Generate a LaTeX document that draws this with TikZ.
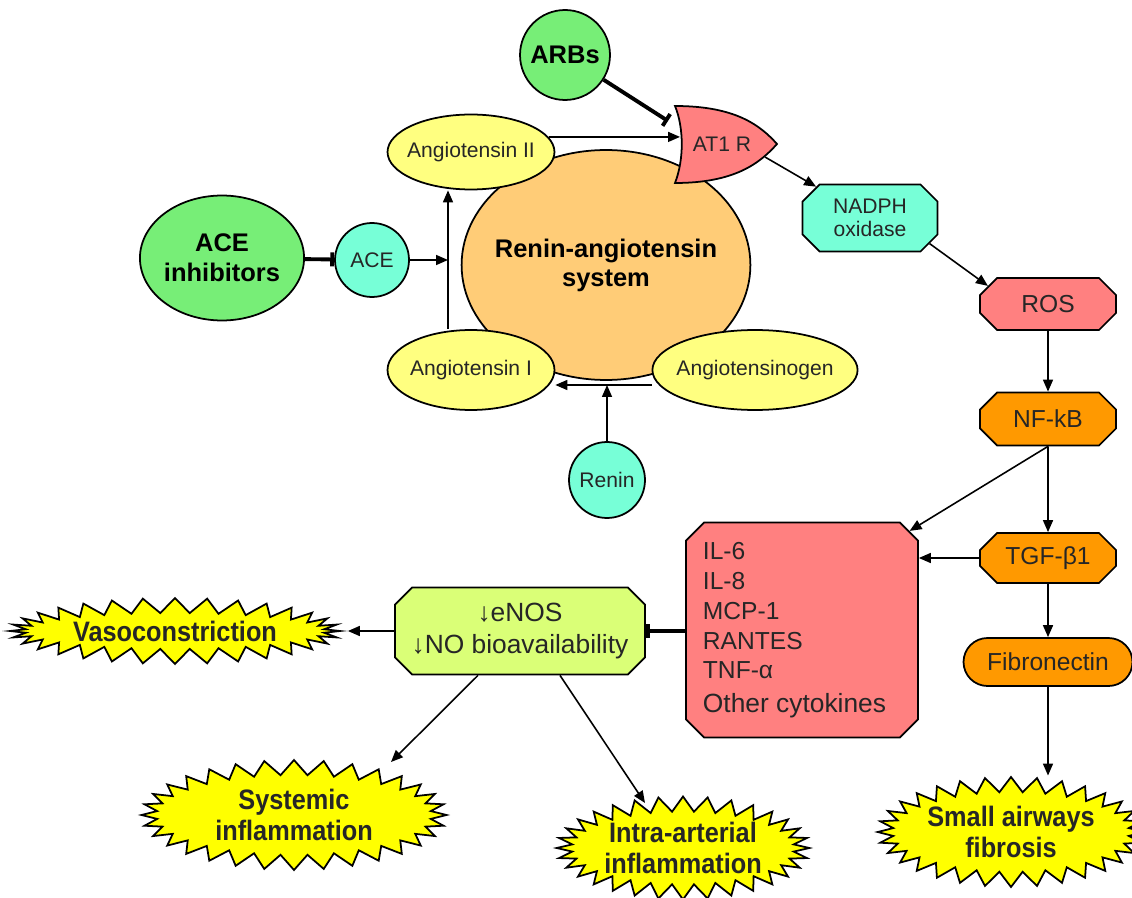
\documentclass[tikz,border=0pt]{standalone}
\usepackage{fontspec}
\setmainfont{Liberation Sans}
\newfontfamily\burstfont[FakeStretch=0.9]{Liberation Sans}
\usetikzlibrary{shapes.geometric, shapes.misc, shapes.symbols, arrows.meta, calc, backgrounds}

\definecolor{grn}{RGB}{119,238,119}
\definecolor{aqua}{RGB}{119,255,215}
\definecolor{yel}{RGB}{255,255,128}
\definecolor{peach}{RGB}{255,204,119}
\definecolor{salmon}{RGB}{255,128,128}
\definecolor{orng}{RGB}{255,153,0}
\definecolor{lime}{RGB}{218,255,119}
\definecolor{burst}{RGB}{255,255,0}

\begin{document}
\begin{tikzpicture}[x=0.02cm, y=-0.02cm,
        every node/.style={draw=black, line width=1pt, text=black!85, inner sep=0pt, align=center},
        ell/.style={ellipse, fill=yel, inner xsep=-0.12cm, font=\fontsize{12}{14}\selectfont},
        drug/.style={ellipse, fill=grn, text=black, font=\fontsize{14.5}{17}\selectfont\bfseries},
        enz/.style={circle, fill=aqua, font=\fontsize{12}{14}\selectfont},
        box/.style={chamfered rectangle, chamfered rectangle xsep=0.17cm, chamfered rectangle ysep=0.17cm, font=\fontsize{14}{17}\selectfont},
        outcome/.style={starburst, starburst points=32, random starburst=0, starburst point height=0.3cm, fill=burst, font=\burstfont\fontsize{16}{17.5}\selectfont\bfseries},
        arr/.style={line width=0.9pt, -{Triangle[length=2.4mm, width=2mm]}},
        tee/.style={line width=2.2pt, -{Bar[width=2.8mm]}}
    ]
        \useasboundingbox (0, 0) rectangle (1132, 898);

        % renin-angiotensin part
        \node[ell, fill=peach, text=black, inner xsep=-0.18cm, minimum width=5.76cm, minimum height=4.6cm, font=\fontsize{14.5}{16.5}\selectfont\bfseries] (RAS) at (606, 265) {Renin-angiotensin\\system};
        \node[ell, minimum width=3.34cm, minimum height=1.5cm] (AngII) at (471, 152) {Angiotensin II};
        \node[ell, minimum width=3.34cm, minimum height=1.6cm] (AngI) at (471, 370) {Angiotensin I};
        \node[ell, minimum width=4.1cm, minimum height=1.6cm] (Agen) at (755, 370) {Angiotensinogen};
        \node[drug, circle, minimum size=1.8cm] (ARBs) at (565, 55) {ARBs};
        \node[drug, minimum width=3.18cm, minimum height=2.5cm] (ACEi) at (222, 258) {ACE\\inhibitors};
        \node[enz, minimum size=1.48cm] (ACE) at (372, 260) {ACE};
        \node[enz, minimum size=1.52cm] (Renin) at (607, 480) {Renin};
        \coordinate (join) at (607, 385);
        \coordinate (stem) at (448, 260);

        % receptor
        \draw[line width=1pt, fill=salmon] (675, 106) .. controls (735, 106) and (760, 125) .. (777, 144)
            .. controls (760, 163) and (735, 183) .. (675, 183)
            .. controls (684, 160) and (684, 128) .. cycle;
        \node[draw=none, font=\fontsize{12}{14}\selectfont] (AT1) at (722, 144) {AT1 R};
        \coordinate (AT1in) at (680, 137);
        \coordinate (AT1bar) at (668, 121);
        \coordinate (AT1out) at (765, 157);

        % signalling chain
        \node[box, fill=aqua, minimum width=2.7cm, minimum height=1.34cm, font=\fontsize{12}{13}\selectfont] (NADPH) at (870, 218) {NADPH\\oxidase};
        \node[box, fill=salmon, minimum width=2.72cm, minimum height=1.04cm] (ROS) at (1048, 304) {ROS};
        \node[box, fill=orng, minimum width=2.72cm, minimum height=1.06cm] (NFkB) at (1048, 419) {NF-kB};
        \node[box, fill=orng, minimum width=2.72cm, minimum height=1cm] (TGF) at (1048, 558) {TGF-β1};
        \node[rounded rectangle, fill=orng, minimum width=3.38cm, minimum height=0.96cm, font=\fontsize{14}{17}\selectfont] (Fib) at (1048, 662) {Fibronectin};
        \node[box, fill=salmon, chamfered rectangle xsep=0.18cm, chamfered rectangle ysep=0.18cm, minimum width=4.64cm, minimum height=4.3cm, align=left] (Cyt) at (802, 630) {IL-6\\IL-8\\MCP-1\\RANTES\\TNF-α\\[2pt]{\fontsize{15}{18}\selectfont Other cytokines}\hspace*{0.3cm}};
        \node[box, fill=lime, minimum width=5cm, minimum height=1.74cm, font=\fontsize{15}{18}\selectfont] (eNOS) at (520, 631) {↓eNOS\\↓NO bioavailability};

        % outcomes
        \node[outcome, minimum width=6.6cm, minimum height=1.32cm] (Vaso) at (175, 631) {Vasoconstriction};
        \node[outcome, minimum width=6.1cm, minimum height=2.2cm] (Sys) at (294, 815) {Systemic\\inflammation};
        \node[outcome, minimum width=5.02cm, minimum height=2.06cm] (Intra) at (683, 848) {Intra-arterial\\inflammation};
        \node[outcome, minimum width=4.84cm, minimum height=2.2cm] (SAF) at (1011, 832) {Small airways\\fibrosis};

        \begin{scope}[on background layer]
            \draw[tee] (ARBs) -- (AT1bar);
            \draw[arr] (AngII.11) -- (AngII.11 -| AT1in);
            \draw[arr] (AT1out) -- (NADPH);
            \draw[arr] (NADPH.south east) -- (ROS.north west);
            \draw[arr] (ROS) -- (NFkB);
            \draw[arr] (NFkB) -- (TGF);
            \draw[arr] (NFkB.south) -- (Cyt.north east);
            \draw[arr] (TGF.west) -- (TGF.west -| Cyt.east);
            \draw[arr] (TGF) -- (Fib);
            \draw[arr] (Fib.south) -- (Fib.south |- SAF.north);
            \draw[tee] (Cyt.west |- eNOS) -- (eNOS.east);
            \draw[arr] (eNOS.west) -- (Vaso.east);
            \draw[arr] ($(eNOS.south)+(-42, 0)$) -- ($(Sys)+(97, -53)$);
            \draw[arr] ($(eNOS.south)+(40, 0)$) -- ($(Intra)+(-38, -45)$);
            \draw[tee] (ACEi) -- (ACE);
            \draw[arr] (ACE.east) -- (ACE.east -| stem);
            \draw[arr] (AngI.north -| stem) -- (AngII.south -| stem);
            \draw[arr] (Agen.west |- join) -- (AngI.east |- join);
            \draw[arr] (Renin) -- (join);
        \end{scope}
    \end{tikzpicture}
\end{document}
